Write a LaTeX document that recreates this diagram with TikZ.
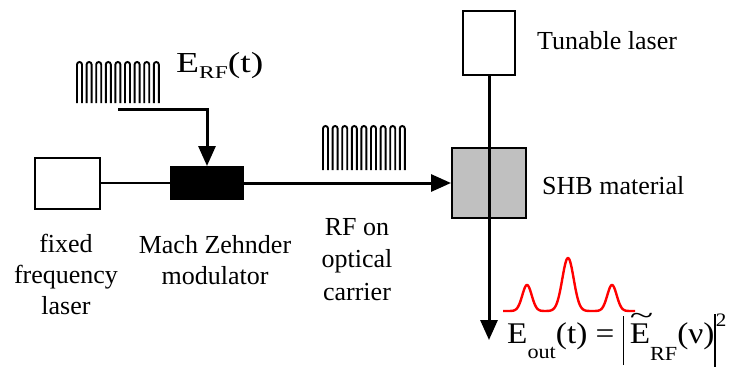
\documentclass[tikz,border=0pt]{standalone}
\usepackage{fontspec}
\setmainfont{Liberation Serif}
\usepackage{graphicx}
\usetikzlibrary{arrows.meta,positioning}
\definecolor{shbgray}{RGB}{192,192,192}
\definecolor{peakred}{RGB}{255,0,0}
\tikzset{
  devbox/.style={draw=black,line width=2pt,inner sep=0pt,fill=white},
  mzmbox/.style={devbox,fill=black},
  shbbox/.style={devbox,fill=shbgray},
  fiber/.style={line width=1.8pt,draw=black},
  beam/.style={line width=3pt,draw=black,-{Triangle[length=20pt,width=17pt]}},
  pulse/.style={line width=1.9pt,draw=black},
  spectrum/.style={line width=2.4pt,draw=peakred,line join=round},
  labeltext/.style={font=\fontsize{26}{31}\selectfont,align=center,inner sep=0pt},
  bigtext/.style={font=\fontsize{30}{34}\selectfont,inner sep=0pt}
}

\begin{document}
\begin{tikzpicture}[x=1pt,y=1pt]
  \useasboundingbox (0,0) rectangle (732,-367);
  \node[devbox,minimum width=65pt,minimum height=51pt] (laser) at (67.5,-183) {};
  \node[mzmbox,minimum width=72pt,minimum height=32pt] (mzm) at (207,-183) {};
  \node[shbbox,minimum width=74pt,minimum height=70pt] (shb) at (489,-183) {};
  \node[devbox,minimum width=52pt,minimum height=64pt] (tunable) at (489,-43) {};
  \coordinate (rfin) at (118,-109);
  \coordinate (outtip) at (489,-340);
  \foreach \i in {0,...,8}
    \draw[pulse] (77+9.6*\i,-103) -- (77+9.6*\i,-64.5) arc[start angle=180,end angle=0,radius=2.5pt] -- (82+9.6*\i,-103);
  \foreach \i in {0,...,8}
    \draw[pulse] (323+9.6*\i,-170) -- (323+9.6*\i,-128.5) arc[start angle=180,end angle=0,radius=2.5pt] -- (328+9.6*\i,-170);
  \draw[fiber] (laser) -- (mzm);
  \draw[beam] (rfin) -| (mzm.north);
  \draw[beam] (mzm) -- (shb);
  \draw[beam] (tunable) -- (outtip);
  \draw[spectrum] plot[domain=503:635,samples=240,smooth]
    (\x,{-311+26*exp(-0.5*(((\x-527)/4.7)^2))+53*exp(-0.5*(((\x-568)/5.7)^2))+26*exp(-0.5*(((\x-612)/4.7)^2))});
  \node[bigtext,font=\fontsize{29}{34}\selectfont,anchor=base west] (rflabel) at (176,-72)
    {\scalebox{1.3}[1]{E\raisebox{-6pt}{\fontsize{18}{18}\selectfont RF}(t)}};
  \node[labeltext,anchor=base west] (tunlabel) at (537,-49) {Tunable laser};
  \node[labeltext,anchor=base west] (shblabel) at (542,-194) {SHB material};
  \node[labeltext,anchor=north] (laserlabel) at (66,-234) {fixed\\frequency\\laser};
  \node[labeltext,anchor=north] (mzmlabel) at (215,-235) {Mach Zehnder\\modulator};
  \node[labeltext,font=\fontsize{26}{32.5}\selectfont,anchor=north] (carrierlabel) at (357,-218) {RF on\\optical\\carrier};
  \node[bigtext,anchor=base west] (eqlabel) at (507,-343)
    {\scalebox{1.11}[1]{E\raisebox{-15pt}{\fontsize{20}{20}\selectfont out}(t) = \rule[-22pt]{1.3pt}{49pt}\,\makebox[0pt][l]{\raisebox{19pt}{\scalebox{1.3}[0.9]{\textasciitilde}}}E\raisebox{-17pt}{\fontsize{20}{20}\selectfont RF}(ν)\rule[-24pt]{1.3pt}{53pt}\raisebox{17pt}{\fontsize{19}{19}\selectfont 2}}};
\end{tikzpicture}
\end{document}
